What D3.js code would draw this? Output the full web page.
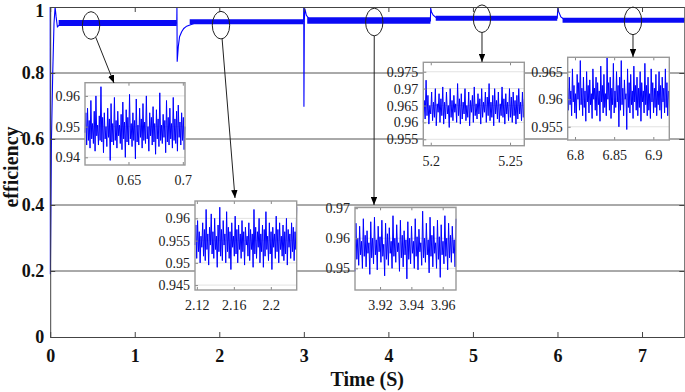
<!DOCTYPE html>
<html><head><meta charset="utf-8">
<script src="https://cdn.jsdelivr.net/npm/d3@7"></script>
<style>
html,body{margin:0;padding:0;background:#fff;}
svg{display:block;font-family:"Liberation Serif","Times New Roman",serif;}
</style></head><body><svg id="c" width="685" height="392"></svg>
<script>
// ================= DATA =================
const xTicks = [0, 1, 2, 3, 4, 5, 6, 7];
const yTicks = [0, 0.2, 0.4, 0.6, 0.8, 1];
const xLabel = "Time (S)";
const yLabel = "efficiency";

// main efficiency trace: transients
const mainTime  = [0, 0.002, 0.015, 0.03, 0.045, 0.058, 0.07, 0.085, 0.11, 0.14,
  1.497, 1.499, 1.502, 1.515, 1.53, 1.555, 1.58, 1.614, 1.7, 1.77, 1.9,
  2.997, 2.999, 3.001, 3.006, 3.012, 3.03, 3.06, 3.12, 3.3,
  4.497, 4.5, 4.51, 4.53, 4.57, 4.7,
  5.997, 6.005, 6.015, 6.04, 6.08, 6.3, 7.5];
const mainValue = [1.0, 0.19, 0.6, 0.8, 0.95, 1.0, 0.97, 0.94, 0.946, 0.951,
  0.951, 1.0, 0.834, 0.88, 0.91, 0.925, 0.935, 0.942, 0.95, 0.954, 0.956,
  0.956, 1.0, 0.698, 0.96, 0.995, 0.975, 0.965, 0.96, 0.958,
  0.958, 0.997, 0.985, 0.975, 0.967, 0.966,
  0.966, 0.999, 0.985, 0.97, 0.962, 0.96, 0.96];
// steady-state noisy band of the main trace
const bandStart = [0.1, 1.65, 3.04, 4.56, 6.06];
const bandEnd   = [1.497, 2.997, 4.497, 5.997, 7.5];
const bandLevel = [0.9516, 0.9555, 0.959, 0.966, 0.960];

// zoomed insets: axis ranges, ticks and sampled values
const insetTimeDomain  = [[0.61, 0.702], [2.118, 2.228], [3.904, 3.9685], [5.1953, 5.259], [6.7907, 6.9204]];
const insetValueDomain = [[0.9375, 0.9643], [0.9439, 0.9639], [0.9428, 0.9703], [0.9531, 0.9778], [0.9526, 0.9676]];
const insetXTicks = [[0.65, 0.7], [2.12, 2.16, 2.2], [3.92, 3.94, 3.96], [5.2, 5.25], [6.8, 6.85, 6.9]];
const insetYTicks = [[0.94, 0.95, 0.96], [0.945, 0.95, 0.955, 0.96], [0.95, 0.96, 0.97],
  [0.955, 0.96, 0.965, 0.97, 0.975], [0.955, 0.96, 0.965]];

const inset1Values = [0.9480,0.9545,0.9440,0.9560,0.9455,0.9520,0.9430,0.9585,0.9460,0.9510,
0.9445,0.9550,0.9420,0.9600,0.9470,0.9505,0.9440,0.9535,0.9455,0.9630,
0.9450,0.9530,0.9415,0.9545,0.9460,0.9500,0.9435,0.9560,0.9465,0.9525,
0.9390,0.9575,0.9450,0.9510,0.9440,0.9595,0.9455,0.9520,0.9430,0.9550,
0.9470,0.9505,0.9445,0.9540,0.9425,0.9580,0.9460,0.9515,0.9400,0.9555,
0.9450,0.9530,0.9440,0.9605,0.9460,0.9510,0.9435,0.9545,0.9455,0.9520,
0.9395,0.9590,0.9450,0.9505,0.9440,0.9560,0.9465,0.9525,0.9430,0.9575,
0.9455,0.9515,0.9445,0.9600,0.9460,0.9500,0.9420,0.9545,0.9470,0.9530,
0.9440,0.9565,0.9450,0.9510,0.9410,0.9555,0.9460,0.9525,0.9435,0.9610,
0.9455,0.9505,0.9445,0.9540,0.9465,0.9520,0.9415,0.9585,0.9450,0.9530,
0.9440,0.9560,0.9460,0.9510,0.9430,0.9595,0.9455,0.9525,0.9445,0.9550,
0.9420,0.9570,0.9465,0.9515,0.9440,0.9545,0.9455,0.9530,0.9425,0.9500];

const inset2Values = [0.9540,0.9585,0.9510,0.9595,0.9525,0.9570,0.9500,0.9560,0.9535,0.9590,
0.9515,0.9575,0.9505,0.9620,0.9530,0.9565,0.9495,0.9580,0.9540,0.9610,
0.9520,0.9570,0.9510,0.9600,0.9530,0.9560,0.9490,0.9585,0.9525,0.9625,
0.9515,0.9575,0.9505,0.9595,0.9540,0.9565,0.9500,0.9615,0.9525,0.9580,
0.9510,0.9570,0.9485,0.9590,0.9535,0.9560,0.9515,0.9605,0.9520,0.9575,
0.9500,0.9585,0.9530,0.9565,0.9510,0.9595,0.9525,0.9570,0.9495,0.9580,
0.9540,0.9560,0.9515,0.9590,0.9505,0.9575,0.9530,0.9565,0.9490,0.9620,
0.9520,0.9580,0.9510,0.9570,0.9535,0.9600,0.9500,0.9565,0.9525,0.9585,
0.9490,0.9575,0.9515,0.9615,0.9530,0.9560,0.9505,0.9590,0.9520,0.9570,
0.9485,0.9580,0.9535,0.9565,0.9510,0.9605,0.9525,0.9575,0.9500,0.9590,
0.9530,0.9560,0.9515,0.9585,0.9505,0.9570,0.9520,0.9600,0.9495,0.9575,
0.9535,0.9565,0.9510,0.9590,0.9525,0.9580,0.9505,0.9570,0.9530,0.9625];

const inset3Values = [0.9490,0.9650,0.9530,0.9600,0.9510,0.9640,0.9545,0.9590,0.9500,0.9665,
0.9540,0.9610,0.9505,0.9625,0.9550,0.9585,0.9480,0.9655,0.9535,0.9600,
0.9515,0.9670,0.9545,0.9595,0.9495,0.9640,0.9555,0.9605,0.9520,0.9660,
0.9540,0.9580,0.9475,0.9650,0.9530,0.9615,0.9510,0.9635,0.9550,0.9590,
0.9500,0.9675,0.9540,0.9600,0.9520,0.9645,0.9555,0.9585,0.9490,0.9660,
0.9535,0.9610,0.9505,0.9625,0.9545,0.9595,0.9465,0.9655,0.9530,0.9600,
0.9515,0.9640,0.9550,0.9590,0.9500,0.9665,0.9540,0.9605,0.9495,0.9630,
0.9555,0.9585,0.9510,0.9690,0.9535,0.9600,0.9520,0.9650,0.9545,0.9595,
0.9485,0.9670,0.9540,0.9610,0.9505,0.9640,0.9550,0.9585,0.9500,0.9660,
0.9530,0.9605,0.9470,0.9645,0.9545,0.9590,0.9515,0.9675,0.9540,0.9600,
0.9495,0.9650,0.9535,0.9610,0.9520,0.9640,0.9550,0.9595,0.9505,0.9665];

const inset4Values = [0.9600,0.9665,0.9610,0.9725,0.9620,0.9680,0.9595,0.9650,0.9625,0.9690,
0.9605,0.9660,0.9615,0.9700,0.9590,0.9655,0.9630,0.9685,0.9600,0.9670,
0.9620,0.9705,0.9595,0.9660,0.9610,0.9690,0.9625,0.9650,0.9585,0.9700,
0.9615,0.9665,0.9605,0.9680,0.9630,0.9655,0.9600,0.9715,0.9620,0.9670,
0.9595,0.9685,0.9610,0.9660,0.9625,0.9700,0.9605,0.9650,0.9615,0.9690,
0.9590,0.9665,0.9630,0.9680,0.9600,0.9705,0.9620,0.9655,0.9610,0.9685,
0.9625,0.9670,0.9595,0.9700,0.9615,0.9660,0.9630,0.9690,0.9600,0.9675,
0.9620,0.9715,0.9605,0.9660,0.9615,0.9680,0.9590,0.9700,0.9625,0.9665,
0.9610,0.9690,0.9600,0.9655,0.9620,0.9705,0.9615,0.9670,0.9595,0.9685,
0.9625,0.9660,0.9605,0.9700,0.9615,0.9675,0.9600,0.9690,0.9620,0.9665,
0.9595,0.9680,0.9610,0.9700,0.9625,0.9660,0.9605,0.9690,0.9615,0.9670];

const inset5Values = [0.9620,0.9580,0.9640,0.9590,0.9615,0.9570,0.9655,0.9595,0.9625,0.9575,
0.9610,0.9565,0.9645,0.9600,0.9630,0.9580,0.9670,0.9590,0.9620,0.9570,
0.9640,0.9585,0.9615,0.9560,0.9650,0.9595,0.9625,0.9575,0.9635,0.9590,
0.9610,0.9565,0.9655,0.9600,0.9620,0.9580,0.9640,0.9570,0.9630,0.9590,
0.9615,0.9560,0.9660,0.9595,0.9625,0.9575,0.9645,0.9585,0.9610,0.9570,
0.9675,0.9600,0.9630,0.9580,0.9640,0.9565,0.9620,0.9590,0.9665,0.9575,
0.9615,0.9585,0.9650,0.9595,0.9625,0.9550,0.9640,0.9580,0.9670,0.9590,
0.9620,0.9570,0.9635,0.9600,0.9610,0.9545,0.9655,0.9585,0.9630,0.9575,
0.9645,0.9590,0.9615,0.9565,0.9660,0.9595,0.9625,0.9580,0.9640,0.9570,
0.9620,0.9585,0.9650,0.9560,0.9630,0.9595,0.9615,0.9575,0.9665,0.9590,
0.9625,0.9570,0.9640,0.9580,0.9610,0.9565,0.9655,0.9595,0.9630,0.9575,
0.9620,0.9585,0.9645,0.9570,0.9615,0.9590,0.9650,0.9580,0.9625,0.9565,
0.9640,0.9595,0.9620,0.9575,0.9655,0.9585,0.9630,0.9570,0.9615,0.9600];

// points on the main trace that each inset magnifies (time, efficiency)
const zoomSpot = [[0.483, 0.944], [2.02, 0.945], [3.833, 0.9545], [5.107, 0.9645], [6.893, 0.958]];

// ================= LAYOUT / STYLE =================
const plot = {left: 50.2, right: 684.3, top: 7, bottom: 337};
const insetBox = [[85, 82.7, 185, 165], [195, 201, 296.7, 290], [355, 207.3, 456, 290],
  [423.3, 62.3, 524.3, 145.7], [567.7, 57.3, 669.3, 140]];
const arrowTip = [[114, 83], [235, 198], [374, 205], [482, 62], [633, 57]];
const bandWidth = [6, 5, 6.5, 5, 5];
const ell = {rx: 8.7, ry: 13.8};
const blue = "#0000ff";

const svg = d3.select("#c");
const defs = svg.append("defs");
defs.append("marker").attr("id", "ah").attr("viewBox", "0 0 10 8")
  .attr("refX", 10).attr("refY", 4).attr("markerWidth", 8).attr("markerHeight", 6.4)
  .attr("markerUnits", "userSpaceOnUse").attr("orient", "auto")
  .append("path").attr("d", "M0,0L10,4L0,8Z").attr("fill", "#000");

const x = d3.scaleLinear().domain([0, 7.5]).range([plot.left, plot.right]);
const y = d3.scaleLinear().domain([0, 1]).range([plot.bottom, plot.top]);

// horizontal grid
svg.append("g").selectAll("line").data(yTicks.filter(v => v > 0 && v < 1)).join("line")
  .attr("x1", plot.left).attr("x2", plot.right)
  .attr("y1", d => y(d)).attr("y2", d => y(d))
  .attr("stroke", "#555").attr("stroke-width", 1);

// main trace
const line = d3.line().x(d => x(d[0])).y(d => y(d[1]));
svg.append("path").attr("d", line(mainTime.map((t, i) => [t, mainValue[i]])))
  .attr("fill", "none").attr("stroke", blue).attr("stroke-width", 1.1);
svg.append("g").selectAll("line").data(bandLevel).join("line")
  .attr("x1", (d, i) => x(bandStart[i])).attr("x2", (d, i) => x(bandEnd[i]))
  .attr("y1", d => y(d)).attr("y2", d => y(d))
  .attr("stroke", "#0a0af5").attr("stroke-width", (d, i) => bandWidth[i]);

// axes
function styleAxis(g) {
  g.select(".domain").attr("stroke", "#444").attr("stroke-width", 1);
  g.selectAll(".tick line").attr("stroke", "#444");
  g.selectAll("text").attr("font-family", "'Liberation Serif',serif")
    .attr("font-size", 18).attr("font-weight", "bold").attr("fill", "#111");
}
svg.append("g").attr("transform", `translate(0,${plot.bottom})`)
  .call(d3.axisBottom(x).tickValues(xTicks).tickSizeInner(-5).tickSizeOuter(0).tickPadding(12).tickFormat(d3.format("")))
  .call(styleAxis);
svg.append("g").attr("transform", `translate(0,${plot.top})`)
  .call(d3.axisTop(x).tickValues(xTicks).tickSizeInner(-5).tickSizeOuter(0).tickFormat(""))
  .call(styleAxis);
svg.append("g").attr("transform", `translate(${plot.left},0)`)
  .call(d3.axisLeft(y).tickValues(yTicks).tickSizeInner(-5).tickSizeOuter(0).tickPadding(6).tickFormat(d3.format("")))
  .call(styleAxis)
  .call(g => g.selectAll(".tick").filter(d => d === 1).select("text").attr("dy", "0.5em"));
svg.append("g").attr("transform", `translate(${plot.right},0)`)
  .call(d3.axisRight(y).tickValues(yTicks).tickSizeInner(-5).tickSizeOuter(0).tickFormat(""))
  .call(styleAxis);

svg.append("text").attr("x", (plot.left + plot.right) / 2).attr("y", 386)
  .attr("text-anchor", "middle").attr("font-size", 20).attr("font-weight", "bold").attr("fill", "#111")
  .text(xLabel);
svg.append("text").attr("transform", "translate(18,167) rotate(-90)")
  .attr("text-anchor", "middle").attr("font-size", 20).attr("font-weight", "bold").attr("fill", "#111")
  .text(yLabel);

// insets
const insetValues = [inset1Values, inset2Values, inset3Values, inset4Values, inset5Values];
insetBox.forEach((b, i) => {
  const g = svg.append("g");
  const ix = d3.scaleLinear().domain(insetTimeDomain[i]).range([b[0], b[2]]);
  const iy = d3.scaleLinear().domain(insetValueDomain[i]).range([b[3], b[1]]);
  g.append("rect").attr("x", b[0]).attr("y", b[1]).attr("width", b[2] - b[0]).attr("height", b[3] - b[1])
    .attr("fill", "#fff");
  g.selectAll(".gl").data(insetYTicks[i]).join("line")
    .attr("x1", b[0]).attr("x2", b[2]).attr("y1", d => iy(d)).attr("y2", d => iy(d))
    .attr("stroke", "#e2e2e2").attr("stroke-width", 1);
  const vals = insetValues[i];
  const [t0, t1] = insetTimeDomain[i];
  const pts = vals.map((v, k) => [t0 + (t1 - t0) * k / (vals.length - 1), v]);
  g.append("path").attr("d", d3.line().x(d => ix(d[0])).y(d => iy(d[1]))(pts))
    .attr("fill", "none").attr("stroke", blue).attr("stroke-width", 1);
  const st = a => {
    a.select(".domain").remove();
    a.selectAll(".tick line").attr("stroke", "#888");
    a.selectAll("text").attr("font-family", "'Liberation Serif',serif").attr("font-size", 14).attr("fill", "#222");
  };
  g.append("g").attr("transform", `translate(0,${b[3]})`)
    .call(d3.axisBottom(ix).tickValues(insetXTicks[i]).tickSizeInner(-3).tickSizeOuter(0).tickPadding(10).tickFormat(d3.format("")))
    .call(st);
  g.append("g").attr("transform", `translate(0,${b[1]})`)
    .call(d3.axisTop(ix).tickValues(insetXTicks[i]).tickSizeInner(-3).tickSizeOuter(0).tickFormat(""))
    .call(st);
  g.append("g").attr("transform", `translate(${b[0]},0)`)
    .call(d3.axisLeft(iy).tickValues(insetYTicks[i]).tickSizeInner(-3).tickSizeOuter(0).tickPadding(5).tickFormat(d3.format("")))
    .call(st);
  g.append("rect").attr("x", b[0]).attr("y", b[1]).attr("width", b[2] - b[0]).attr("height", b[3] - b[1])
    .attr("fill", "none").attr("stroke", "#999").attr("stroke-width", 1.4);
});

// ellipses + arrows
zoomSpot.forEach((p, i) => {
  const cx = x(p[0]), cy = y(p[1]);
  svg.append("ellipse").attr("cx", cx).attr("cy", cy).attr("rx", ell.rx).attr("ry", ell.ry)
    .attr("fill", "none").attr("stroke", "#222").attr("stroke-width", 1);
  const [tx, ty] = arrowTip[i];
  const dx = tx - cx, dy = ty - cy;
  const k = 1 / Math.sqrt((dx / ell.rx) ** 2 + (dy / ell.ry) ** 2);
  svg.append("line").attr("x1", cx + dx * k).attr("y1", cy + dy * k).attr("x2", tx).attr("y2", ty)
    .attr("stroke", "#222").attr("stroke-width", 1).attr("marker-end", "url(#ah)");
});
</script></body></html>
